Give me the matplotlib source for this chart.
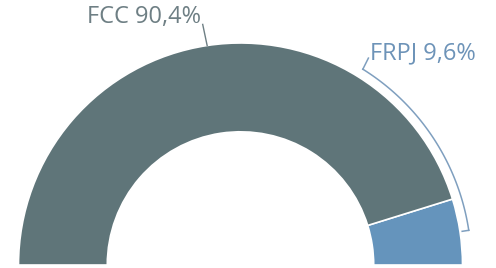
import numpy as np
import matplotlib.pyplot as plt

labels = ['FRPJ', 'FCC']
values = [9.6, 90.4]
colours = ['#6594bc', '#5f7579']
text_colours = ['#6d93b8', '#6e7f84']

plt.rcParams['font.family'] = ['Open Sans', 'DejaVu Sans']

fig = plt.figure(figsize=(4.96, 2.68), dpi=100)
ax = fig.add_axes([0, 0, 1, 1])

# half donut: the hidden third slice takes the lower half
wedges, _ = ax.pie(values + [sum(values)], startangle=0, counterclock=True,
                   colors=colours + ['none'], radius=1.0,
                   wedgeprops=dict(width=0.4, edgecolor='white', linewidth=1.2))
wedges[-1].set_visible(False)

# mid angles of each slice (degrees)
total = 2 * sum(values)
ang = np.cumsum([0] + values) / total * 360
mids = (ang[:-1] + ang[1:]) / 2

# FCC label, short leader to the arc
m = np.deg2rad(mids[1])
ax.plot([np.cos(m) * 1.0, np.cos(m) * 1.0 - 0.02], [np.sin(m) * 1.0, np.sin(m) * 1.0 + 0.095],
        color=text_colours[1], lw=1)
ax.text(-0.178, 1.115, f'{labels[1]} {values[1]:.1f}%'.replace('.', ','), ha='right', va='center',
        fontsize=17, color=text_colours[1])

# FRPJ label, bracket along the outside of the ring
r = 1.04
t = np.deg2rad(np.linspace(mids[0], 58, 80))
ax.plot(np.cos(t) * r, np.sin(t) * r, color='#7f9fbf', lw=1.1)
m = np.deg2rad(mids[0])
ax.plot([np.cos(m) * r, np.cos(m) * (r - 0.03)], [np.sin(m) * r, np.sin(m) * (r - 0.03)],
        color='#7f9fbf', lw=1.1)
t1 = np.deg2rad(58)
ax.plot([np.cos(t1) * r, np.cos(t1) * r + 0.025], [np.sin(t1) * r, np.sin(t1) * r + 0.05],
        color='#7f9fbf', lw=1.1)
ax.text(0.583, 0.955, f'{labels[0]} {values[0]:.1f}%'.replace('.', ','), ha='left', va='center',
        fontsize=17, color=text_colours[0])

ax.set_aspect('auto')
ax.set_xlim(-240.5 / 222, 255.5 / 222)
ax.set_ylim(-3 / 222, 265 / 222)
ax.axis('off')

fig.savefig('out.png', dpi=100)
